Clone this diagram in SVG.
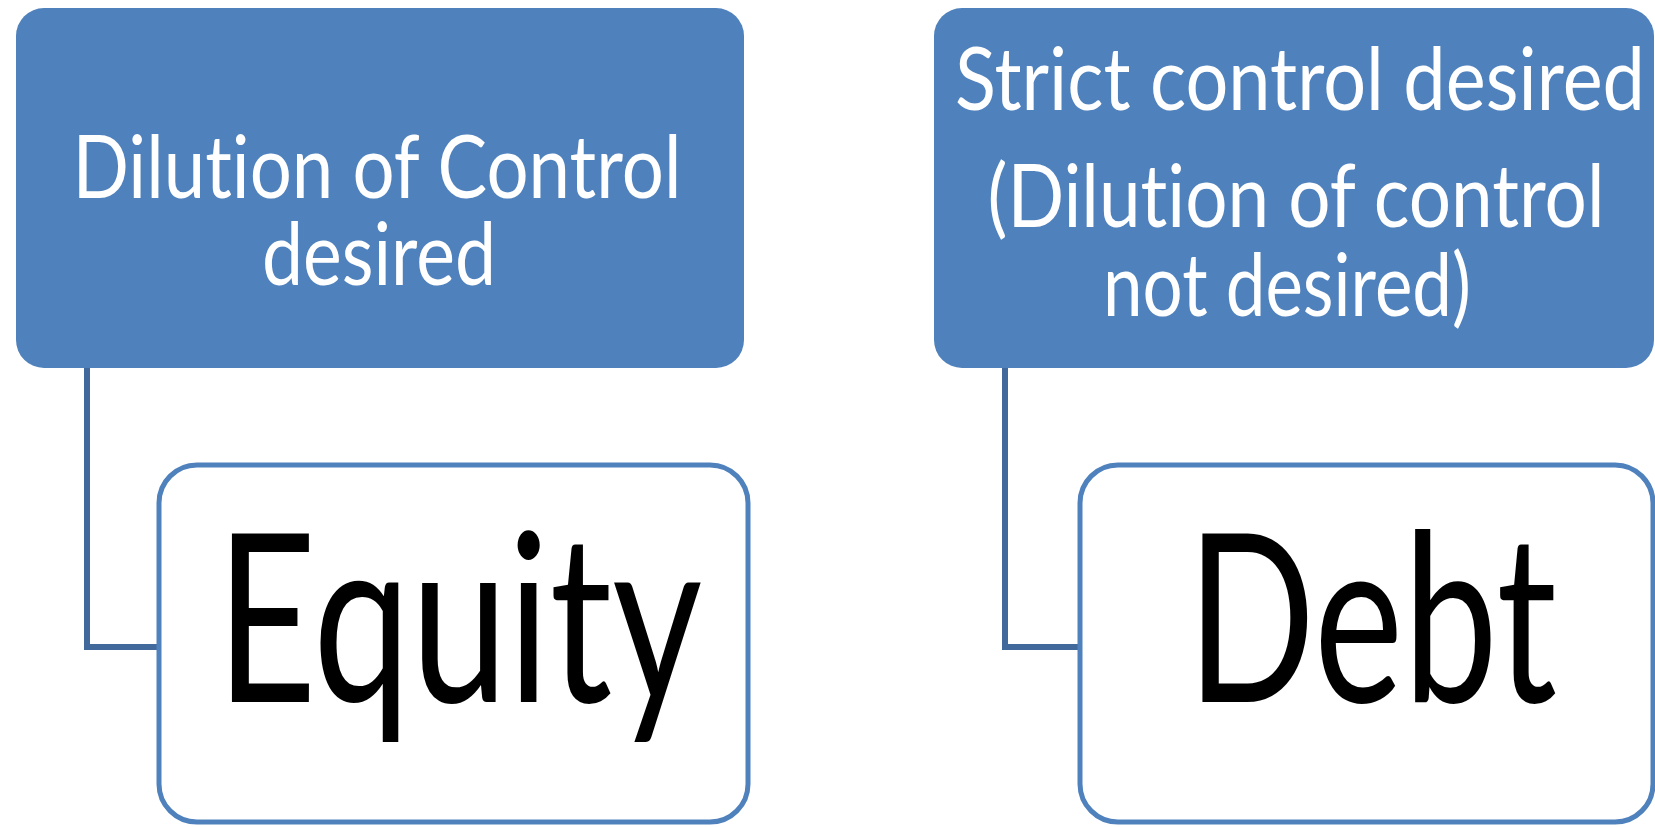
<svg xmlns="http://www.w3.org/2000/svg" width="1655" height="827" viewBox="0 0 1655 827">
  <style>
    .head { fill: #4F81BD; }
    .leaf { fill: #FFFFFF; stroke: #4F81BD; stroke-width: 5; }
    .link { fill: none; stroke: #41699B; stroke-width: 6; }
    text { font-family: "Lato", "Liberation Sans", sans-serif; text-anchor: middle; font-variant-ligatures: none; font-feature-settings: "liga" 0, "clig" 0; }
    .hl { font-size: 72px; fill: #FFFFFF; }
    .ll { font-size: 173px; fill: #000000; }
  </style>
  <rect width="1655" height="827" fill="#FFFFFF"/>

  <g id="connectors">
    <path class="link" d="M87 368 V647 H159"/>
    <path class="link" d="M1005 368 V647 H1080"/>
  </g>

  <!-- header labels are drawn slightly condensed: text is stretched vertically about its baseline -->
  <g id="dilution-desired">
    <rect class="head" x="16" y="8" width="728" height="360" rx="28"/>
    <text class="hl" transform="translate(377 198) scale(1 1.22)" textLength="609" lengthAdjust="spacingAndGlyphs">Dilution of Control</text>
    <text class="hl" transform="translate(379 285) scale(1 1.22)" textLength="234" lengthAdjust="spacingAndGlyphs">desired</text>
  </g>

  <g id="equity">
    <rect class="leaf" x="159" y="465" width="589" height="357" rx="38"/>
    <text class="ll" transform="translate(459 702) scale(1 1.36)" textLength="486" lengthAdjust="spacingAndGlyphs">Equity</text>
  </g>

  <g id="strict-control">
    <rect class="head" x="934" y="8" width="720" height="360" rx="28"/>
    <text class="hl" transform="translate(1300 110) scale(1 1.22)" textLength="690" lengthAdjust="spacingAndGlyphs">Strict control desired</text>
    <text class="hl" transform="translate(1296 227) scale(1 1.22)" textLength="617" lengthAdjust="spacingAndGlyphs">(Dilution of control</text>
    <text class="hl" transform="translate(1287 316) scale(1 1.22)" textLength="368" lengthAdjust="spacingAndGlyphs">not desired)</text>
  </g>

  <g id="debt">
    <rect class="leaf" x="1080" y="465" width="573" height="357" rx="38"/>
    <text class="ll" transform="translate(1372 702) scale(1 1.36)" textLength="370" lengthAdjust="spacingAndGlyphs">Debt</text>
  </g>
</svg>
